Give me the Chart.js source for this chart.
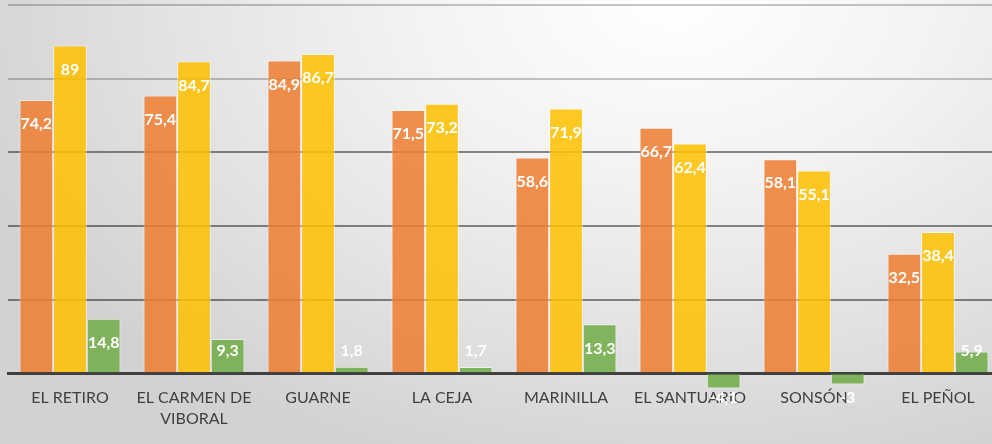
<!DOCTYPE html>
<html>
<head>
<meta charset="utf-8">
<script src="https://cdn.jsdelivr.net/npm/chart.js@4.4.1/dist/chart.umd.min.js"></script>
<style>
  html, body { margin: 0; padding: 0; width: 992px; height: 444px; overflow: hidden; }
  body { background: radial-gradient(ellipse 75% 110% at 68% 0%, #ffffff 0%, #f3f3f3 35%, #e2e2e2 70%, #d2d2d2 100%); }
  #wrap { position: absolute; left: 0; top: 0; width: 1000px; height: 447px; }
</style>
</head>
<body>
<div id="wrap"><canvas id="myChart"></canvas></div>
<script>
// data
const municipios = ['EL RETIRO', ['EL CARMEN DE', 'VIBORAL'], 'GUARNE', 'LA CEJA', 'MARINILLA', 'EL SANTUARIO', 'SONSÓN', 'EL PEÑOL'];
const serieNaranja = [74.2, 75.4, 84.9, 71.5, 58.6, 66.7, 58.1, 32.5];
const serieAmarilla = [89, 84.7, 86.7, 73.2, 71.9, 62.4, 55.1, 38.4];
const serieVerde = [14.8, 9.3, 1.8, 1.7, 13.3, -4.1, -3, 5.9];
const yTicks = [-20, 0, 20, 40, 60, 80, 100];

// white value labels, excel style "inside end"
const valueLabels = {
  id: 'valueLabels',
  afterDatasetsDraw(chart) {
    const ctx = chart.ctx;
    ctx.save();
    ctx.fillStyle = '#ffffff';
    ctx.font = 'bold 16px Lato';
    ctx.textAlign = 'center';
    ctx.textBaseline = 'middle';
    chart.data.datasets.forEach(function (ds, i) {
      const meta = chart.getDatasetMeta(i);
      meta.data.forEach(function (bar, j) {
        const v = ds.data[j];
        let y;
        if (v >= 0) {
          y = Math.min(bar.y + 24, bar.base - 21);
        } else {
          y = bar.base + 24;
        }
        ctx.fillText(String(v).replace('.', ','), bar.x, y);
      });
    });
    ctx.restore();
  }
};

function barStyle(r, g, b) {
  return {
    backgroundColor: 'rgba(' + r + ',' + g + ',' + b + ',0.86)',
    borderColor: 'rgba(255,255,255,0.5)',
    borderWidth: 1,
    categoryPercentage: 0.815,
    barPercentage: 1.0
  };
}

const ctx = document.getElementById('myChart').getContext('2d');
new Chart(ctx, {
  type: 'bar',
  data: {
    labels: municipios,
    datasets: [
      Object.assign({ label: 'A', data: serieNaranja }, barStyle(237, 125, 49)),
      Object.assign({ label: 'B', data: serieAmarilla }, barStyle(255, 192, 0)),
      Object.assign({ label: 'C', data: serieVerde }, barStyle(112, 173, 71))
    ]
  },
  options: {
    responsive: true,
    maintainAspectRatio: false,
    animation: false,
    layout: { padding: { left: 8, right: 0, top: 5, bottom: 0 } },
    plugins: {
      legend: { display: false },
      tooltip: { enabled: false }
    },
    scales: {
      x: {
        position: { y: 0 },
        z: 2,
        grid: { display: false, drawTicks: false },
        border: { display: true, color: '#404040', width: 3 },
        ticks: {
          autoSkip: false,
          maxRotation: 0,
          padding: 14,
          color: '#404040',
          font: { family: 'Lato', size: 16, lineHeight: 1.3 }
        }
      },
      y: {
        min: yTicks[0],
        max: yTicks[yTicks.length - 1],
        z: 1,
        afterBuildTicks: function (axis) {
          axis.ticks = yTicks.map(function (v) { return { value: v }; });
        },
        ticks: { display: false },
        border: { display: false },
        grid: {
          drawTicks: false,
          lineWidth: 2,
          color: function (c) {
            const v = c.tick ? c.tick.value : 0;
            if (v <= 0) return 'rgba(0,0,0,0)';
            if (v >= 80) return 'rgba(0,0,0,0.22)';
            return 'rgba(0,0,0,0.45)';
          }
        }
      }
    }
  },
  plugins: [valueLabels]
});
</script>
</body>
</html>
